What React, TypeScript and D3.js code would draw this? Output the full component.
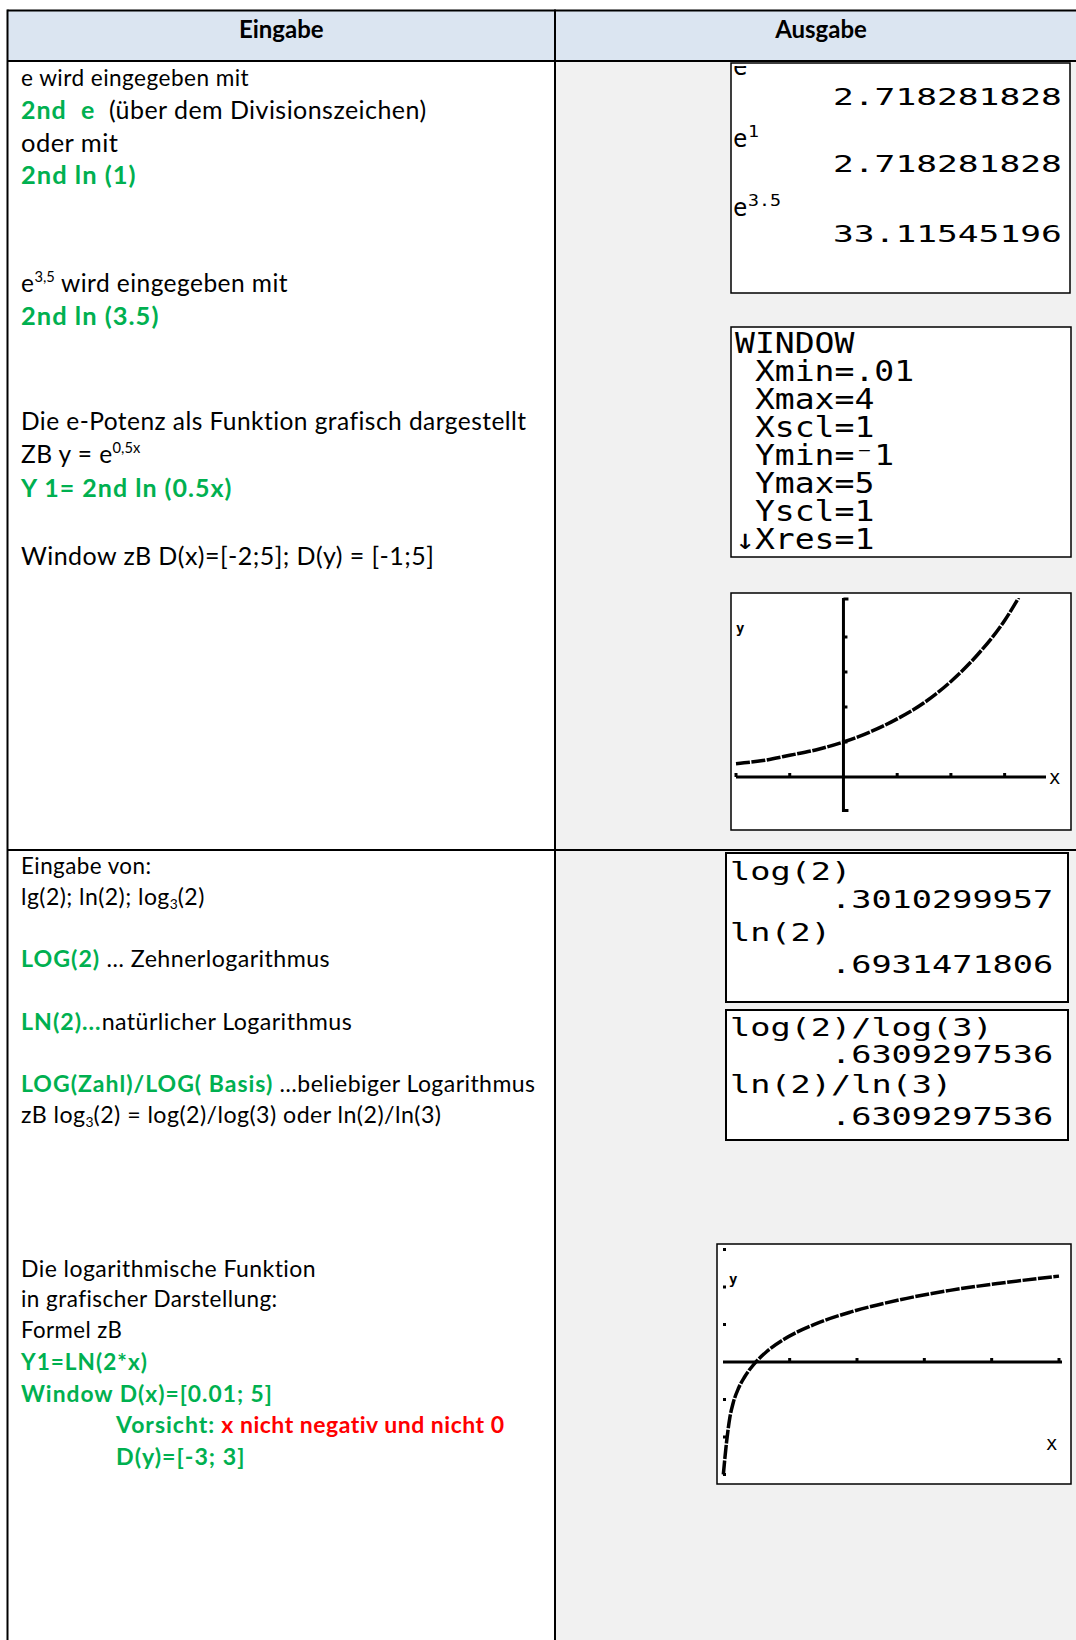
import React from 'react';
import * as d3 from 'd3';

// ---- table text ----
const headers = ['Eingabe', 'Ausgabe'];

type Seg = { t: string; k?: 'key' | 'warn' | 'sup' | 'sub' };

const expLines: Seg[][] = [
  [{ t: 'e wird eingegeben mit' }],
  [{ t: '2nd  e', k: 'key' }, { t: '  (über dem Divisionszeichen)' }],
  [{ t: 'oder mit' }],
  [{ t: '2nd ln (1)', k: 'key' }],
  [{ t: 'e' }, { t: '3,5', k: 'sup' }, { t: ' wird eingegeben mit' }],
  [{ t: '2nd ln (3.5)', k: 'key' }],
  [{ t: 'Die e-Potenz als Funktion grafisch dargestellt' }],
  [{ t: 'ZB y = e' }, { t: '0,5x', k: 'sup' }],
  [{ t: 'Y 1= 2nd ln (0.5x)', k: 'key' }],
  [{ t: 'Window zB D(x)=[-2;5]; D(y) = [-1;5]' }],
];

const logLines: Seg[][] = [
  [{ t: 'Eingabe von:' }],
  [{ t: 'lg(2); ln(2); log' }, { t: '3', k: 'sub' }, { t: '(2)' }],
  [{ t: 'LOG(2)', k: 'key' }, { t: ' … Zehnerlogarithmus' }],
  [{ t: 'LN(2)...', k: 'key' }, { t: 'natürlicher Logarithmus' }],
  [{ t: 'LOG(Zahl)/LOG( Basis)', k: 'key' }, { t: ' …beliebiger Logarithmus' }],
  [{ t: 'zB log' }, { t: '3', k: 'sub' }, { t: '(2) = log(2)/log(3) oder ln(2)/ln(3)' }],
  [{ t: 'Die logarithmische Funktion' }],
  [{ t: 'in grafischer Darstellung:' }],
  [{ t: 'Formel zB' }],
  [{ t: 'Y1=LN(2*x)', k: 'key' }],
  [{ t: 'Window D(x)=[0.01; 5]', k: 'key' }],
  [{ t: 'Vorsicht:', k: 'key' }, { t: ' x nicht negativ und nicht 0', k: 'warn' }],
  [{ t: 'D(y)=[-3; 3]', k: 'key' }],
];

// ---- calculator screens ----
const eExprs = ['', '1', '3.5'];
const eResults = ['2.718281828', '2.718281828', '33.11545196'];
const windowLines = ['WINDOW', ' Xmin=.01', ' Xmax=4', ' Xscl=1', ' Ymin=⁻1', ' Ymax=5', ' Yscl=1', '↓Xres=1'];
const logScreenA = ['log(2)', '.3010299957', 'ln(2)', '.6931471806'];
const logScreenB = ['log(2)/log(3)', '.6309297536', 'ln(2)/ln(3)', '.6309297536'];

// graph y = e^(0.5x)
const expXRange = [-2, 3.77];
const expYRange = [-1, 5];
const expXTicks = [-2, -1, 1, 2, 3];
const expYTicks = [1, 2, 3, 4];
const expCurve: [number, number][] = [
  [-2, 0.38], [-1.5, 0.47], [-1, 0.62], [-0.5, 0.78], [0, 1], [0.5, 1.29], [1, 1.66],
  [1.5, 2.12], [2, 2.73], [2.5, 3.5], [3, 4.47], [3.26, 5.12],
];

// graph y = ln(2x)
const lnXRange = [0.01, 5];
const lnYRange = [-3, 3];
const lnXTicks = [1, 2, 3, 4, 5];
const lnYTicks = [-3, -2, -1, 1, 2, 3];
const lnCurve: [number, number][] = [
  [0.015, -3.0], [0.065, -2.1], [0.11, -1.5], [0.16, -1.1], [0.24, -0.7], [0.33, -0.4],
  [0.46, -0.08], [0.66, 0.28], [0.91, 0.6], [1.35, 0.99], [1.9, 1.33], [2.64, 1.66],
  [3.38, 1.91], [4.12, 2.1], [5, 2.29],
];

const GREEN = '#00b050';
const RED = '#ff0000';
const SANS = "Lato, 'Noto Sans', sans-serif";
const MONO = "'DejaVu Sans Mono', monospace";

function RichLine({ x, y, segs, size }: { x: number; y: number; segs: Seg[]; size: number }) {
  let shift = 0;
  const parts = segs.map((s, i) => {
    const target = s.k === 'sup' ? -size * 0.42 : s.k === 'sub' ? size * 0.18 : 0;
    const dy = target - shift;
    shift = target;
    const small = s.k === 'sup' || s.k === 'sub';
    return (
      <tspan
        key={i}
        dy={dy !== 0 ? dy : undefined}
        fontSize={small ? size * 0.6 : undefined}
        fill={s.k === 'key' ? GREEN : s.k === 'warn' ? RED : '#000'}
        fontWeight={s.k === 'key' || s.k === 'warn' ? 700 : 400}
        letterSpacing={s.k === 'key' ? 1.0 : s.k === 'warn' ? 0.5 : small ? 0 : 0.45}
      >
        {s.t}
      </tspan>
    );
  });
  return (
    <text x={x} y={y} fontSize={size} fontFamily={SANS} style={{ whiteSpace: 'pre' }}>
      {parts}
    </text>
  );
}

function CalcText({ x, y, s, adv, size }: { x: number; y: number; s: string; adv: number; size: number }) {
  return (
    <text
      x={x}
      y={y}
      fontFamily={MONO}
      fontSize={size}
      textLength={s.length * adv}
      lengthAdjust="spacingAndGlyphs"
      style={{ whiteSpace: 'pre' }}
    >
      {s}
    </text>
  );
}

function ExpGraph() {
  const box = { x: 731, y: 593, w: 340, h: 237 };
  const x = d3.scaleLinear().domain(expXRange).range([736, 1046]);
  const y = d3.scaleLinear().domain(expYRange).range([812, 602]);
  const line = d3.line<[number, number]>().x(d => x(d[0])).y(d => y(d[1])).curve(d3.curveMonotoneX);
  const x0 = x(0);
  const y0 = y(0);
  return (
    <g>
      <defs>
        <clipPath id="clip-exp">
          <rect x={box.x} y={y(expYRange[1]) - 4} width={box.w} height={box.h} />
        </clipPath>
      </defs>
      <rect x={box.x} y={box.y} width={box.w} height={box.h} fill="#fff" stroke="#000" strokeWidth={1.5} />
      <line x1={x(expXRange[0])} x2={x(expXRange[1])} y1={y0} y2={y0} stroke="#000" strokeWidth={3} />
      {expXTicks.map(t => (
        <line key={t} x1={x(t)} x2={x(t)} y1={y0} y2={y0 - 4} stroke="#000" strokeWidth={3} />
      ))}
      <line x1={x0} x2={x0} y1={y(expYRange[1]) - 4} y2={y(expYRange[0])} stroke="#000" strokeWidth={3} />
      {[y(expYRange[1]) - 3, y(expYRange[0]) - 1.5].map((v, i) => (
        <line key={i} x1={x0} x2={x0 + 5} y1={v} y2={v} stroke="#000" strokeWidth={3} />
      ))}
      {expYTicks.map(t => (
        <line key={t} x1={x0} x2={x0 + 4} y1={y(t)} y2={y(t)} stroke="#000" strokeWidth={3} />
      ))}
      <path d={line(expCurve) || ''} fill="none" stroke="#000" strokeWidth={3.5} strokeDasharray="14 1.5" clipPath="url(#clip-exp)" />
      <text x={736} y={633} fontFamily={MONO} fontSize={14} fontWeight={700}>y</text>
      <text x={1049} y={784} fontFamily={MONO} fontSize={19}>x</text>
    </g>
  );
}

function LnGraph() {
  const box = { x: 717, y: 1244, w: 354, h: 240 };
  const x = d3.scaleLinear().domain(lnXRange).range([723, 1059]);
  const y = d3.scaleLinear().domain(lnYRange).range([1474.5, 1249.5]);
  const line = d3.line<[number, number]>().x(d => x(d[0])).y(d => y(d[1])).curve(d3.curveMonotoneX);
  const y0 = y(0);
  return (
    <g>
      <rect x={box.x} y={box.y} width={box.w} height={box.h} fill="#fff" stroke="#000" strokeWidth={1.5} />
      <line x1={x(lnXRange[0])} x2={x(lnXRange[1]) + 3} y1={y0} y2={y0} stroke="#000" strokeWidth={3} />
      {lnXTicks.map(t => (
        <line key={t} x1={x(t)} x2={x(t)} y1={y0} y2={y0 - 4} stroke="#000" strokeWidth={3} />
      ))}
      {lnYTicks.map(t => (
        <rect key={t} x={x(lnXRange[0])} y={y(t) - 1.5} width={3} height={3} fill="#000" />
      ))}
      <path d={line(lnCurve) || ''} fill="none" stroke="#000" strokeWidth={3.5} strokeDasharray="14 1.5" />
      <text x={729} y={1284} fontFamily={MONO} fontSize={14} fontWeight={700}>y</text>
      <text x={1046} y={1450} fontFamily={MONO} fontSize={19}>x</text>
    </g>
  );
}

export default function App() {
  const W = 1076;
  const H = 1640;
  const left = 7.5;
  const top = 10.5;
  const headBottom = 61;
  const mid = 555;
  const rowLine = 850;
  const expBase = [86, 119, 152, 184, 292, 325, 430, 463, 497, 565];
  const expSizes = [22.6, 25, 25.5, 25.5, 24.5, 25.5, 24.5, 24.5, 25, 25];
  const logBase = [874, 905, 967, 1030, 1092, 1123, 1277, 1307, 1338, 1370, 1402, 1433, 1465];
  const logSizes = [22.4, 23, 23.2, 23.2, 23, 23.2, 23, 22.5, 22.2, 22.6, 22.8, 23, 23.2];
  const logIndent = [0, 0, 0, 0, 0, 0, 0, 0, 0, 0, 0, 1, 1];

  // e-screen geometry
  const eX0 = 729;
  const eAdv = 20.8;
  const eExprBase = [75, 147, 216];
  const eResBase = [105, 172, 242];

  // log screens geometry
  const lX0 = 730;
  const lAdv = 20.2;
  const logBaseA = [880, 908, 941, 973];
  const logBaseB = [1036, 1063, 1093, 1125];

  return (
    <svg width={W} height={H} style={{ position: 'absolute', left: 0, top: 0 }}>
      <rect x={0} y={0} width={W} height={H} fill="#fff" />
      <rect x={left} y={top} width={W - left} height={headBottom - top} fill="#dbe5f1" />
      <rect x={mid} y={headBottom} width={W - mid} height={H - headBottom} fill="#f1f1f1" />

      <g stroke="#000" strokeWidth={2}>
        <line x1={left} x2={W} y1={top} y2={top} />
        <line x1={left} x2={W} y1={headBottom} y2={headBottom} />
        <line x1={left} x2={W} y1={rowLine} y2={rowLine} />
        <line x1={left} x2={left} y1={top - 1} y2={H} />
        <line x1={mid} x2={mid} y1={top - 1} y2={H} />
      </g>

      {headers.map((h, i) => (
        <text
          key={h}
          x={i === 0 ? (left + mid) / 2 : 821}
          y={38}
          textAnchor="middle"
          fontFamily={SANS}
          fontWeight={700}
          fontSize={24}
        >
          {h}
        </text>
      ))}

      {expLines.map((segs, i) => (
        <RichLine key={i} x={21} y={expBase[i]} segs={segs} size={expSizes[i]} />
      ))}
      {logLines.map((segs, i) => (
        <RichLine key={i} x={logIndent[i] ? 116 : 21} y={logBase[i]} segs={segs} size={logSizes[i]} />
      ))}

      {/* e screen */}
      <defs>
        <clipPath id="clip-e">
          <rect x={731} y={66} width={339} height={226} />
        </clipPath>
      </defs>
      <rect x={731} y={63} width={339} height={230} fill="#fff" stroke="#000" strokeWidth={1.5} />
      <g clipPath="url(#clip-e)">
        {eExprs.map((sup, i) => (
          <g key={i}>
            <text x={eX0 + 4} y={eExprBase[i]} fontFamily={MONO} fontSize={24}>e</text>
            {sup && (
              <CalcText x={eX0 + 19} y={eExprBase[i] - 10} s={sup} adv={11} size={15} />
            )}
            <CalcText x={eX0} y={eResBase[i]} s={eResults[i].padStart(16)} adv={eAdv} size={23.3} />
          </g>
        ))}
      </g>

      {/* window screen */}
      <rect x={731} y={327} width={340} height={230} fill="#fff" stroke="#000" strokeWidth={1.5} />
      <text fontFamily={MONO} fontSize={28.5} style={{ whiteSpace: 'pre' }}>
        {windowLines.map((s, i) => (
          <tspan key={i} x={735} y={353 + i * 28} textLength={s.length * 19.9} lengthAdjust="spacingAndGlyphs">
            {s}
          </tspan>
        ))}
      </text>

      <ExpGraph />

      {/* log screens */}
      <rect x={726} y={853} width={342} height={149} fill="#fff" stroke="#000" strokeWidth={2} />
      {logScreenA.map((s, i) => (
        <CalcText key={i} x={lX0} y={logBaseA[i]} s={i % 2 ? s.padStart(16) : s} adv={lAdv} size={24.7} />
      ))}
      <rect x={726} y={1010} width={342} height={130} fill="#fff" stroke="#000" strokeWidth={2} />
      {logScreenB.map((s, i) => (
        <CalcText key={i} x={lX0} y={logBaseB[i]} s={i % 2 ? s.padStart(16) : s} adv={lAdv} size={24.7} />
      ))}

      <LnGraph />
    </svg>
  );
}
